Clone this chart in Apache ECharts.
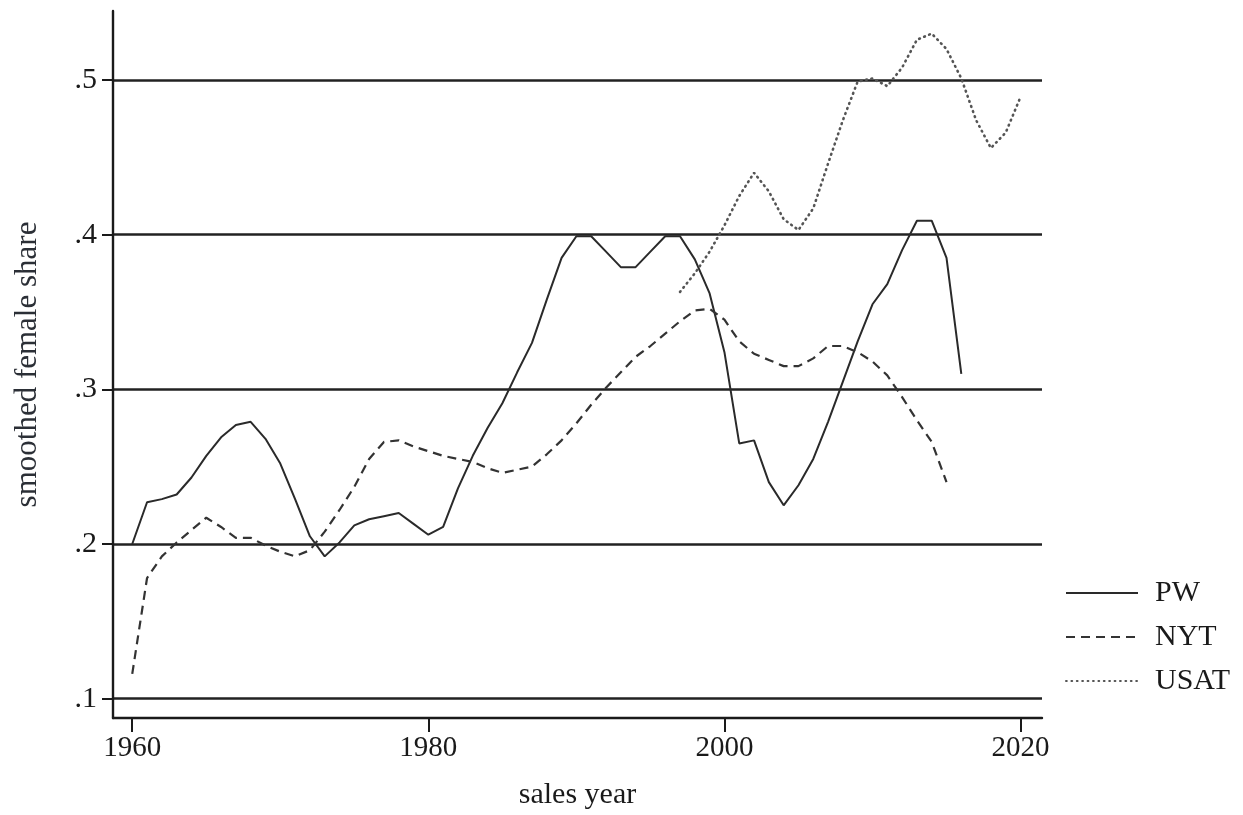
<!DOCTYPE html>
<html>
<head>
<meta charset="utf-8">
<script src="https://cdn.jsdelivr.net/npm/echarts@6/dist/echarts.min.js"></script>
<style>
  html, body { margin: 0; padding: 0; background: #fff; }
  #chart { width: 1243px; height: 815px; }
</style>
</head>
<body>
<div id="chart"></div>
<script>
// Smoothed female share of bestseller authors by sales year
const pwYears = [1960,1961,1962,1963,1964,1965,1966,1967,1968,1969,1970,1971,1972,1973,1974,1975,1976,1977,1978,1979,
  1980,1981,1982,1983,1984,1985,1986,1987,1988,1989,1990,1991,1992,1993,1994,1995,1996,1997,1998,1999,
  2000,2001,2002,2003,2004,2005,2006,2007,2008,2009,2010,2011,2012,2013,2014,2015,2016];
const pwShare = [0.200,0.227,0.229,0.232,0.243,0.257,0.269,0.277,0.279,0.268,0.252,0.229,0.205,0.192,0.201,0.212,0.216,0.218,0.220,0.213,
  0.206,0.211,0.236,0.257,0.275,0.291,0.311,0.330,0.358,0.385,0.399,0.399,0.389,0.379,0.379,0.389,0.399,0.399,0.384,0.362,
  0.324,0.265,0.267,0.240,0.225,0.238,0.255,0.279,0.305,0.331,0.355,0.368,0.390,0.409,0.409,0.385,0.310];

const nytYears = [1960,1961,1962,1963,1964,1965,1966,1967,1968,1969,1970,1971,1972,1973,1974,1975,1976,1977,1978,1979,
  1980,1981,1982,1983,1984,1985,1986,1987,1988,1989,1990,1991,1992,1993,1994,1995,1996,1997,1998,1999,
  2000,2001,2002,2003,2004,2005,2006,2007,2008,2009,2010,2011,2012,2013,2014,2015];
const nytShare = [0.116,0.178,0.192,0.201,0.209,0.217,0.211,0.204,0.204,0.199,0.195,0.192,0.196,0.208,0.222,0.237,0.255,0.266,0.267,0.263,
  0.260,0.257,0.255,0.253,0.249,0.246,0.248,0.250,0.258,0.267,0.278,0.290,0.301,0.311,0.321,0.328,0.336,0.344,0.351,0.352,
  0.345,0.331,0.323,0.319,0.315,0.315,0.320,0.328,0.328,0.324,0.318,0.309,0.295,0.280,0.266,0.240];

const usatYears = [1997,1998,1999,2000,2001,2002,2003,2004,2005,2006,2007,2008,2009,2010,2011,2012,2013,2014,2015,2016,
  2017,2018,2019,2020];
const usatShare = [0.363,0.375,0.389,0.406,0.425,0.440,0.428,0.410,0.403,0.417,0.446,0.474,0.499,0.501,0.496,0.508,0.526,0.530,0.520,0.501,
  0.474,0.456,0.466,0.489];

const xTicks = [1960, 1980, 2000, 2020];
const yTicks = [0.1, 0.2, 0.3, 0.4, 0.5];
const yTickLabels = ['.1', '.2', '.3', '.4', '.5'];

const pairs = (xs, ys) => xs.map((x, i) => [x, ys[i]]);
const serif = 'Liberation Serif';
const ink = '#1a1a1a';

const chart = echarts.init(document.getElementById('chart'), null, { renderer: 'canvas' });

chart.setOption({
  animation: false,
  backgroundColor: '#ffffff',
  grid: { left: 113, right: 201, top: 11, bottom: 97, containLabel: false },
  xAxis: {
    type: 'value',
    min: 1958.7,
    max: 2021.45,
    name: 'sales year',
    nameLocation: 'middle',
    nameGap: 62,
    nameTextStyle: { fontFamily: serif, fontSize: 30, color: ink },
    axisLine: { show: true, onZero: false, lineStyle: { color: ink, width: 2.4 } },
    axisTick: { show: true, length: 14, customValues: xTicks, lineStyle: { color: ink, width: 2 } },
    axisLabel: {
      customValues: xTicks,
      margin: 16,
      fontFamily: serif,
      fontSize: 29,
      color: ink,
      formatter: v => String(Math.round(v))
    },
    splitLine: { show: false }
  },
  yAxis: {
    type: 'value',
    min: 0.0875,
    max: 0.5446,
    name: 'smoothed female share',
    nameLocation: 'middle',
    nameGap: 70,
    nameTextStyle: { fontFamily: serif, fontSize: 31, color: '#2b2f36' },
    axisLine: { show: true, onZero: false, lineStyle: { color: ink, width: 2.4 } },
    axisTick: { show: true, length: 11, customValues: yTicks, lineStyle: { color: ink, width: 2 } },
    axisLabel: {
      customValues: yTicks,
      margin: 16,
      fontFamily: serif,
      fontSize: 30,
      color: ink,
      formatter: v => yTickLabels[yTicks.findIndex(t => Math.abs(t - v) < 1e-6)] ?? ''
    },
    splitLine: { show: true, lineStyle: { color: '#222222', width: 2.6 } }
  },
  legend: {
    orient: 'vertical',
    left: 1065,
    top: 578,
    padding: 0,
    itemWidth: 72,
    itemHeight: 14,
    itemGap: 14,
    itemStyle: { opacity: 0 },
    textStyle: { fontFamily: serif, fontSize: 30, color: ink, padding: [0, 0, 0, 12] },
    data: ['PW', 'NYT', 'USAT']
  },
  series: [
    {
      name: 'PW',
      type: 'line',
      data: pairs(pwYears, pwShare),
      symbol: 'none',
      lineStyle: { color: '#2a2a2a', width: 2, type: 'solid' },
      itemStyle: { color: '#2a2a2a' },
      z: 3
    },
    {
      name: 'NYT',
      type: 'line',
      data: pairs(nytYears, nytShare),
      symbol: 'none',
      lineStyle: { color: '#333333', width: 2.2, type: [9, 6] },
      itemStyle: { color: '#333333' },
      z: 3
    },
    {
      name: 'USAT',
      type: 'line',
      data: pairs(usatYears, usatShare),
      symbol: 'none',
      lineStyle: { color: '#555555', width: 2.6, type: [0.8, 4.6], cap: 'round' },
      itemStyle: { color: '#555555' },
      z: 3
    }
  ]
});
</script>
</body>
</html>
